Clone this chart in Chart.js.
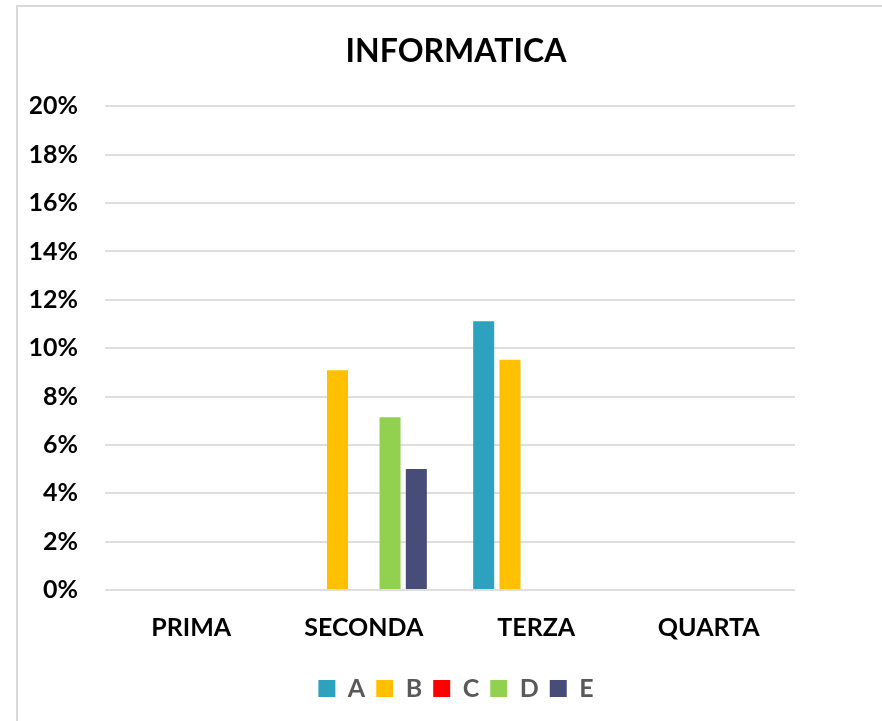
<!DOCTYPE html>
<html>
<head>
<meta charset="utf-8">
<script src="https://cdn.jsdelivr.net/npm/chart.js@4.4.1/dist/chart.umd.min.js"></script>
<style>
    body { margin: 0; background: #ffffff; overflow: hidden; }
    #frame {
        position: absolute; left: 16px; top: 5px; width: 900px; height: 740px;
        border-left: 2px solid #d9d9d9; border-top: 2px solid #d9d9d9;
    }
    #chart { position: absolute; left: 0; top: 0; }
</style>
</head>
<body>
<div id="frame"></div>
<canvas id="chart" width="882" height="721"></canvas>
<script>
const categories = ['PRIMA', 'SECONDA', 'TERZA', 'QUARTA'];
const seriesNames = ['A', 'B', 'C', 'D', 'E'];
// percent values per class (A..E)
const valuesA = [0, 0, 11.11, 0];
const valuesB = [0, 9.09, 9.52, 0];
const valuesC = [0, 0, 0, 0];
const valuesD = [0, 7.14, 0, 0];
const valuesE = [0, 5.0, 0, 0];
const seriesColors = ['#2ca2bf', '#ffc000', '#ff0000', '#92d050', '#474c79'];
const yTicks = [0, 2, 4, 6, 8, 10, 12, 14, 16, 18, 20];

const fontFamily = 'Lato, "Open Sans", sans-serif';
const allValues = [valuesA, valuesB, valuesC, valuesD, valuesE];

new Chart(document.getElementById('chart').getContext('2d'), {
    type: 'bar',
    data: {
        labels: categories,
        datasets: seriesNames.map((name, i) => ({
            label: name,
            data: allValues[i],
            backgroundColor: seriesColors[i],
            borderWidth: 0,
            categoryPercentage: 0.762,
            barPercentage: 0.8
        }))
    },
    options: {
        responsive: false,
        animation: false,
        layout: { padding: { left: 30, right: 0, top: 0, bottom: 10 } },
        plugins: {
            title: {
                display: true,
                text: 'INFORMATICA',
                color: '#000000',
                font: { family: fontFamily, size: 32, weight: 'bold', lineHeight: 1.2 },
                padding: { top: 32, bottom: 36 }
            },
            legend: {
                position: 'bottom',
                labels: {
                    boxWidth: 17,
                    boxHeight: 17,
                    padding: 11,
                    color: '#595959',
                    font: { family: fontFamily, size: 25, weight: 'bold' }
                }
            },
            tooltip: { enabled: false }
        },
        scales: {
            x: {
                grid: { display: false, drawTicks: false },
                border: { display: false },
                ticks: {
                    color: '#000000',
                    padding: 25,
                    font: { family: fontFamily, size: 25, weight: 'bold', lineHeight: 1.0 }
                }
            },
            y: {
                min: 0,
                max: 20,
                afterFit(scale) { scale.width = 75; },
                afterBuildTicks(scale) { scale.ticks = yTicks.map(v => ({ value: v })); },
                grid: { color: '#dedede', lineWidth: 2, drawTicks: false },
                border: { display: false },
                ticks: {
                    color: '#000000',
                    padding: 27,
                    font: { family: fontFamily, size: 25, weight: 'bold' },
                    callback: v => v + '%'
                }
            },
            pad: {
                type: 'linear',
                position: 'right',
                afterFit(scale) { scale.width = 87; },
                grid: { display: false },
                border: { display: false },
                ticks: { display: false }
            }
        }
    }
});
</script>
</body>
</html>
